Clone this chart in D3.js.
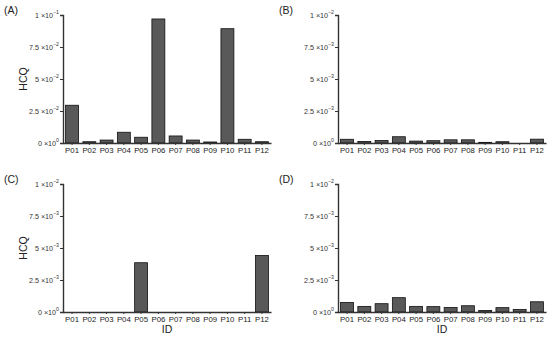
<!DOCTYPE html>
<html><head><meta charset="utf-8">
<script src="https://cdn.jsdelivr.net/npm/d3@7"></script>
<style>body{margin:0;background:#fff}svg{display:block;font-family:"Liberation Sans",Arial,sans-serif}</style>
</head><body><svg id="c" width="550" height="338"></svg>
<script>
const ids = ["P01","P02","P03","P04","P05","P06","P07","P08","P09","P10","P11","P12"];
const valuesA = [0.0295,0.0010,0.0023,0.0084,0.0045,0.0969,0.0055,0.0023,0.0008,0.0893,0.0029,0.0010];
const valuesB = [0.00029,0.00012,0.00020,0.00049,0.00015,0.00018,0.00025,0.00025,0.00005,0.00010,0.0,0.00030];
const valuesC = [0,0,0,0,0.00385,0,0,0,0,0,0,0.00442];
const valuesD = [0.00075,0.00044,0.00065,0.00112,0.00044,0.00042,0.00036,0.00049,0.00012,0.00034,0.00020,0.00080];
const ticksA = [[0,"0","0"],[0.025,"2.5","−2"],[0.05,"5","−2"],[0.075,"7.5","−2"],[0.1,"1","−1"]];
const ticksSmall = [[0,"0","0"],[0.0025,"2.5","−3"],[0.005,"5","−3"],[0.0075,"7.5","−3"],[0.01,"1","−2"]];

const panels = [
  {label:"(A)", data:valuesA, max:0.1, ticks:ticksA, x0:63, y0:15, ylab:true, xlab:false},
  {label:"(B)", data:valuesB, max:0.01, ticks:ticksSmall, x0:338, y0:15, ylab:false, xlab:false},
  {label:"(C)", data:valuesC, max:0.01, ticks:ticksSmall, x0:63, y0:184, ylab:true, xlab:true},
  {label:"(D)", data:valuesD, max:0.01, ticks:ticksSmall, x0:338, y0:184, ylab:false, xlab:true}
];
const W = 208, H = 128;
const svg = d3.select("#c");
panels.forEach(p => {
  const g = svg.append("g").attr("transform", `translate(${p.x0},${p.y0})`);
  const x = d3.scaleBand().domain(ids).range([0, W]).paddingInner(0.25).paddingOuter(0.15);
  const y = d3.scaleLinear().domain([0, p.max]).range([H, 0]);
  g.selectAll("rect").data(ids.map((id,i)=>({id, v:p.data[i]}))).join("rect")
    .attr("x", d => x(d.id)).attr("width", x.bandwidth())
    .attr("y", d => y(d.v)).attr("height", d => H - y(d.v))
    .attr("fill", "#595959").attr("stroke", "#111").attr("stroke-width", 0.8);
  const ya = g.append("g").call(d3.axisLeft(y).tickValues(p.ticks.map(t=>t[0])).tickSize(3).tickFormat(""));
  ya.select(".domain").attr("stroke","#333").attr("stroke-width",1.4);
  ya.selectAll(".tick line").attr("stroke","#333");
  p.ticks.forEach(t => {
    const tx = g.append("text").attr("x", -4).attr("y", y(t[0]) + 2.5).attr("text-anchor","end")
      .attr("font-size", 7.2).attr("fill", "#333");
    tx.append("tspan").text(t[1] + " ×10");
    tx.append("tspan").attr("dy", -3.2).attr("font-size", 5.2).text(t[2]);
  });
  const xa = g.append("g").attr("transform", `translate(0,${H})`).call(d3.axisBottom(x).tickSize(2).tickSizeOuter(0));
  xa.select(".domain").attr("stroke","#333").attr("stroke-width",1.4);
  xa.selectAll(".tick line").attr("stroke","#333");
  xa.selectAll(".tick text").attr("font-size", 7.8).attr("fill","#222").attr("dy","0.8em").attr("y", 3.5);
  svg.append("text").attr("x", p.x0 - 59).attr("y", p.y0 - 1).attr("font-size", 10.5).attr("fill","#222").text(p.label);
  if (p.ylab) svg.append("text").attr("transform", `translate(${p.x0-36},${p.y0+H/2}) rotate(-90)`)
    .attr("text-anchor","middle").attr("font-size", 10.5).attr("fill","#222").text("HCQ");
  if (p.xlab) svg.append("text").attr("x", p.x0 + W/2).attr("y", p.y0 + H + 21).attr("text-anchor","middle")
    .attr("font-size", 10.5).attr("fill","#222").text("ID");
});
</script></body></html>
